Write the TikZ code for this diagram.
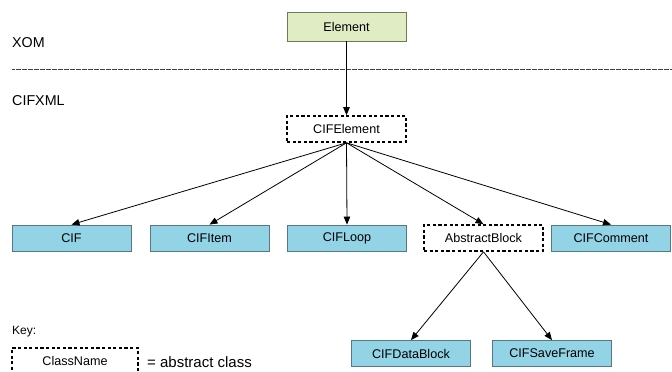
\documentclass[tikz,border=0pt]{standalone}
\usepackage{fontspec}
\setmainfont{Liberation Sans}
\usetikzlibrary{arrows.meta}
\definecolor{concretefill}{RGB}{146,211,229}
\definecolor{concretedraw}{RGB}{88,118,132}
\definecolor{xomfill}{RGB}{224,237,196}
\definecolor{xomdraw}{RGB}{110,124,84}
\tikzset{
  cls/.style={rectangle, minimum width=119pt, minimum height=26pt, inner sep=0pt, font=\fontsize{12.6}{14}\selectfont},
  concrete/.style={cls, fill=concretefill, draw=concretedraw, line width=0.8pt},
  abstractcls/.style={cls, draw=black, line width=1.6pt, dash pattern=on 3.2pt off 2.4pt},
  xomcls/.style={cls, minimum height=29pt, fill=xomfill, draw=xomdraw, line width=0.8pt},
  inherit/.style={-{Triangle[length=8pt,width=6.5pt]}, line width=0.8pt},
  lbl/.style={anchor=west, inner sep=0pt, font=\fontsize{14.3}{16}\selectfont}
}
\begin{document}
\begin{tikzpicture}[x=1pt,y=-1pt]
\useasboundingbox (0,0) rectangle (672,372);
% package separator
\draw[line width=0.6pt, black!75, dash pattern=on 0.6pt off 0.6pt] (12,69) -- (672,69);
\node[lbl] (xom) at (12,43) {XOM};
\node[lbl] (cifxml) at (12,101) {CIFXML};
% classes
\node[xomcls] (element) at (346.5,26.5) {Element};
\node[abstractcls] (cifelement) at (346.5,129) {CIFElement};
\node[concrete] (cif) at (71.5,238) {CIF};
\node[concrete] (cifitem) at (209.5,238) {CIFItem};
\node[concrete] (cifloop) at (347,238) {CIFLoop};
\node[abstractcls] (abstractblock) at (483.5,238) {AbstractBlock};
\node[concrete] (cifcomment) at (611,238) {CIFComment};
\node[concrete] (cifdatablock) at (411,353.5) {CIFDataBlock};
\node[concrete] (cifsaveframe) at (552,353.5) {CIFSaveFrame};
% inheritance
\draw[inherit] (element.south) -- (cifelement.north);
\draw[inherit] (cifelement.south) -- (cif.north);
\draw[inherit] (cifelement.south) -- (cifitem.north);
\draw[inherit] (cifelement.south) -- (cifloop.north);
\draw[inherit] (cifelement.south) -- (abstractblock.north);
\draw[inherit] (cifelement.south) -- (cifcomment.north);
\draw[inherit] (abstractblock.south) -- (cifdatablock.north);
\draw[inherit] (abstractblock.south) -- (cifsaveframe.north);
% key
\node[anchor=west, inner sep=0pt, font=\fontsize{12}{14}\selectfont] (key) at (12,332) {Key:};
\node[abstractcls, minimum width=126pt, minimum height=26pt] (keybox) at (75,361) {ClassName};
\node[lbl, font=\fontsize{15}{17}\selectfont] (keytext) at (147,362) {= abstract class};
\end{tikzpicture}
\end{document}
